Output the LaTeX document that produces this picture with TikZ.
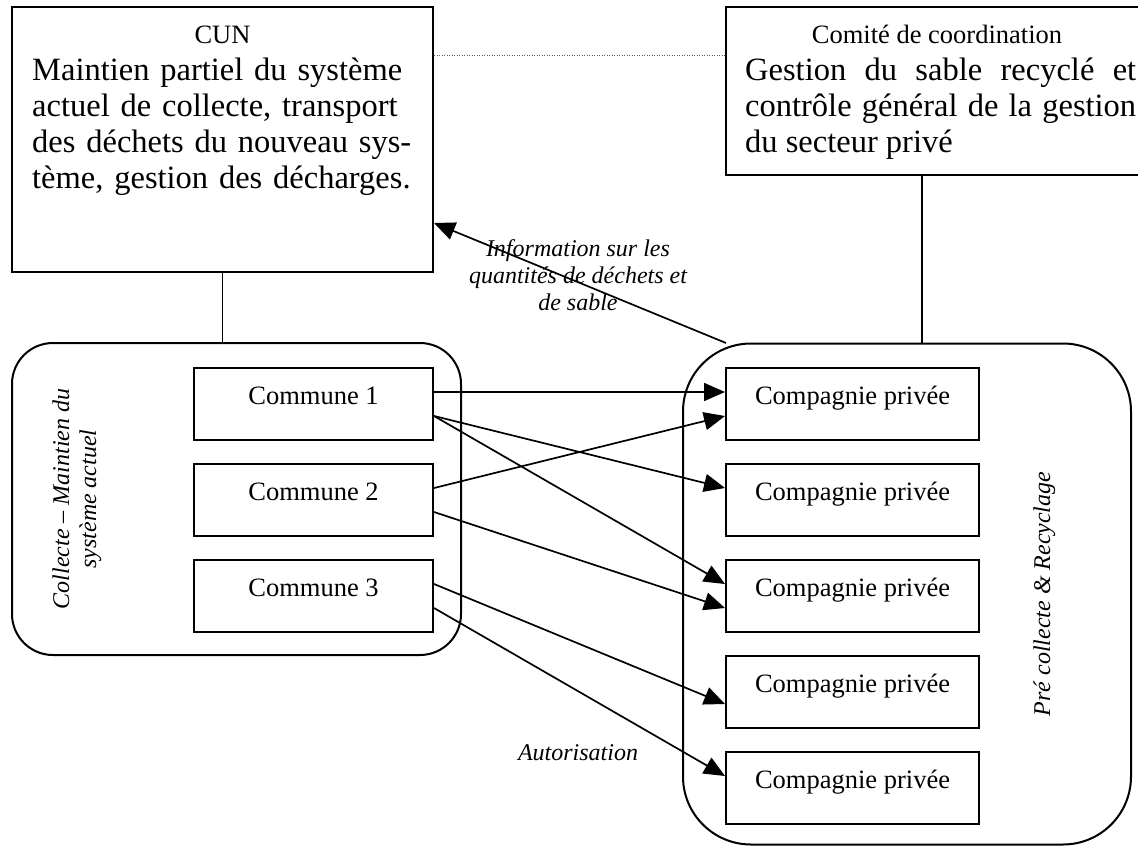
\documentclass[tikz,border=0pt]{standalone}
\usepackage{fontspec}
\setmainfont{Liberation Serif}
\usetikzlibrary{arrows.meta}

\tikzset{
  frame/.style={draw, line width=2pt, inner sep=0pt},
  unit/.style={frame, minimum height=72pt, text height=10pt, text depth=10pt,
    font=\fontsize{26.5}{30}\selectfont},
  commune/.style={unit, minimum width=239pt},
  firm/.style={unit, minimum width=253pt},
  group/.style={draw, line width=2pt, inner sep=0pt},
  title/.style={font=\fontsize{26.5}{30}\selectfont, anchor=base, inner sep=0pt},
  body/.style={font=\fontsize{32.5}{36.3}\selectfont, inner sep=0pt, anchor=base west},
  note/.style={font=\fontsize{24}{27}\selectfont\itshape, inner sep=0pt, align=center},
  flow/.style={line width=1.7pt, -{Triangle[length=21pt,width=18pt]}},
  link/.style={line width=1.8pt},
}

\begin{document}
\begin{tikzpicture}[x=1pt, y=-1pt]
\useasboundingbox (0,0) rectangle (1138,846);
\clip (0,0) rectangle (1138,846);

% upper boxes
\node[frame, minimum width=421pt, minimum height=265pt] (cun) at (222.5,139.5) {};
\node[title] (cunT) at (222.5,43) {CUN};
\node[body, text width=400pt, align=left] (cunB) at (32,80)
  {Maintien partiel du système\\actuel de collecte, transport\\des déchets du nouveau sys-\\tème, gestion des décharges.};

\node[frame, minimum width=422pt, minimum height=168pt] (comite) at (937,91) {};
\node[title] (comiteT) at (937,43) {Comité de coordination};
\node[body, text width=391pt, align=justify] (comiteB) at (745,80)
  {\tolerance=10000 Gestion du sable recyclé et\linebreak contrôle général de la gestion\linebreak du secteur privé};

% dotted relation between the two upper boxes
\coordinate (dotA) at ([yshift=84.5pt]cun.east);
\draw[gray!70!black, line width=1pt, dash pattern=on 1pt off 1.5pt] (dotA) -- (dotA -| comite.west);

% rounded groups
\node[group, rounded corners=41pt, minimum width=449pt, minimum height=312pt] (grpL) at (236.5,499) {};
\node[group, rounded corners=68pt, minimum width=448pt, minimum height=501pt] (grpR) at (907,594) {};

\node[note, rotate=90] (grpLlabel) at (77,499) {Collecte – Maintien du\\système actuel};
\node[note, rotate=90, anchor=base] (grpRlabel) at (1050,594) {Pré collecte \& Recyclage};

% links from upper boxes to groups
\draw[link] (cun.south) -- (cun.south |- grpL.north);
\coordinate (cLink) at ([xshift=-15pt]comite.south);
\draw[link] (cLink) -- (cLink |- grpR.north);

% communes
\node[commune] (c1) at (313.5,404) {Commune 1};
\node[commune] (c2) at (313.5,500) {Commune 2};
\node[commune] (c3) at (313.5,596) {Commune 3};

% private companies
\node[firm] (p1) at (852.5,404) {Compagnie privée};
\node[firm] (p2) at (852.5,500) {Compagnie privée};
\node[firm] (p3) at (852.5,596) {Compagnie privée};
\node[firm] (p4) at (852.5,692) {Compagnie privée};
\node[firm] (p5) at (852.5,788) {Compagnie privée};

% authorisations
\draw[flow] ([yshift=12pt]c1.east) -- ([yshift=12pt]p1.west);
\draw[flow] ([yshift=-12pt]c1.east) -- ([yshift=12pt]p2.west);
\draw[flow] ([yshift=-12pt]c1.east) -- ([yshift=12pt]p3.west);
\draw[flow] ([yshift=12pt]c2.east) -- ([yshift=-12pt]p1.west);
\draw[flow] ([yshift=-12pt]c2.east) -- ([yshift=-12pt]p3.west);
\draw[flow] ([yshift=12pt]c3.east) -- ([yshift=-12pt]p4.west);
\draw[flow] ([yshift=-12pt]c3.east) -- ([yshift=12pt]p5.west);

% information flow back to CUN
\coordinate (infoStart) at (726,343);
\draw[flow] (infoStart) -- ([yshift=-83.5pt]cun.east);

\node[note] (info) at (578,275) {Information sur les\\quantités de déchets et\\de sable};
\node[note, anchor=base] (auth) at (578,760) {Autorisation};
\end{tikzpicture}
\end{document}
